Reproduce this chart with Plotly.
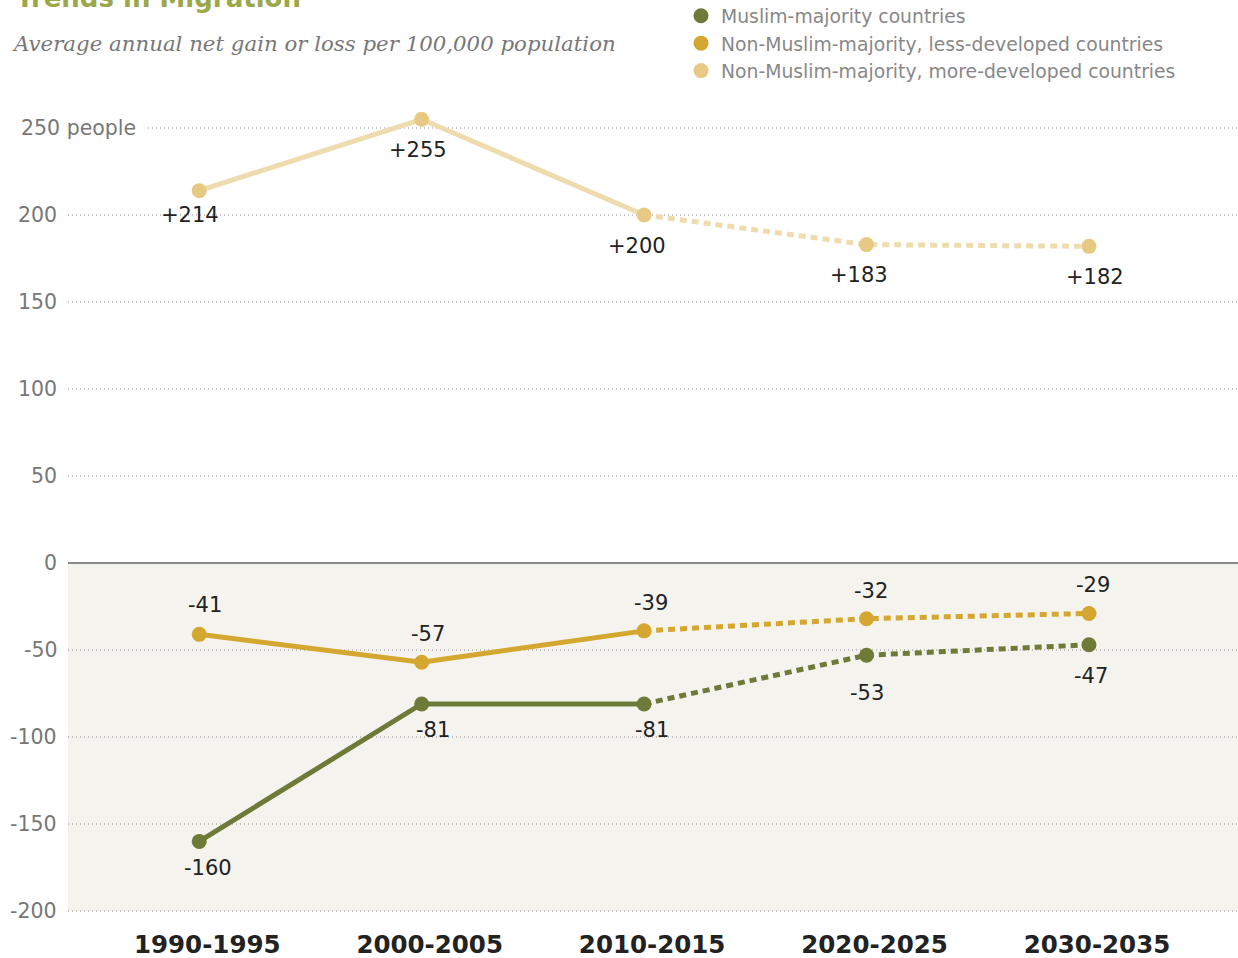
import plotly.graph_objects as go

periods = ["1990-1995", "2000-2005", "2010-2015", "2020-2025", "2030-2035"]
series_names = [
    "Muslim-majority countries",
    "Non-Muslim-majority, less-developed countries",
    "Non-Muslim-majority, more-developed countries",
]
muslim = [-160, -81, -81, -53, -47]
less_dev = [-41, -57, -39, -32, -29]
more_dev = [214, 255, 200, 183, 182]
y_ticks = [250, 200, 150, 100, 50, 0, -50, -100, -150, -200]
y_tick_text = ["250 people", "200", "150", "100", "50", "0", "-50", "-100", "-150", "-200"]
observed_count = 3  # first three periods observed, the rest projected

W, H = 1238, 958
ML, MR, MT, MB = 68, 0, 100, 45
PW = W - ML - MR
PH = H - MT - MB
Y_RANGE = [-201.15, 266.1]
X_RANGE = [-0.59, 4.67]


def px_to_paper_x(px):
    return (px - ML) / PW


def px_to_paper_y(py):
    return (H - MB - py) / PH


# label placement (style): per-point pixel offsets
styles = [
    dict(line="#6e7a38", marker="#6e7a38",
         yshift=[-27, -26, -26, -38, -31], xshift=[9, 11, 8, 0, 2]),
    dict(line="#d4a830", marker="#d4a830",
         yshift=[29, 28, 28, 28, 28], xshift=[6, 6, 7, 4, 4]),
    dict(line="#eedcae", marker="#e6ca84",
         yshift=[-24, -31, -31, -30, -31], xshift=[-9, -4, -7, -8, 6]),
]
data = [muslim, less_dev, more_dev]
xs = list(range(len(periods)))

fig = go.Figure()

for idx in [2, 1, 0]:
    vals = data[idx]
    st = styles[idx]
    k = observed_count
    fig.add_trace(go.Scatter(
        x=xs[:k], y=vals[:k], mode="lines", showlegend=False, hoverinfo="skip",
        line=dict(color=st["line"], width=5)))
    fig.add_trace(go.Scatter(
        x=xs[k - 1:], y=vals[k - 1:], mode="lines", showlegend=False, hoverinfo="skip",
        line=dict(color=st["line"], width=5, dash="7px,5px")))
    fig.add_trace(go.Scatter(
        x=xs, y=vals, mode="markers", showlegend=False,
        marker=dict(color=st["marker"], size=15),
        name=series_names[idx]))

for idx in range(3):
    fig.add_trace(go.Scatter(
        x=[None], y=[None], mode="markers", name=series_names[idx],
        marker=dict(color=styles[idx]["marker"], size=15)))

annotations = []
for idx in range(3):
    st = styles[idx]
    for i, (x, v) in enumerate(zip(xs, data[idx])):
        label = ("+%d" % v) if v > 0 else ("%d" % v)
        annotations.append(dict(
            x=x, y=v, xref="x", yref="y", text=label, showarrow=False,
            xshift=st["xshift"][i], yshift=st["yshift"][i],
            font=dict(family="DejaVu Sans", size=21, color="#222222")))

shapes = []
shapes.append(dict(type="rect", xref="paper", yref="y", x0=0, x1=1, y0=-200, y1=0,
                   fillcolor="#f4f3ee", line=dict(width=0), layer="below"))
for t, txt in zip(y_ticks, y_tick_text):
    if t == 0:
        shapes.append(dict(type="line", xref="paper", yref="y", x0=0, x1=1, y0=0, y1=0,
                           line=dict(color="#8a8a8a", width=2), layer="below"))
    else:
        x0 = px_to_paper_x(148) if txt.endswith("people") else 0
        shapes.append(dict(type="line", xref="paper", yref="y", x0=x0, x1=1, y0=t, y1=t,
                           line=dict(color="#8c8c8c", width=1.2, dash="1px,3px"), layer="below"))
    right_px = 138 if txt.endswith("people") else 59
    annotations.append(dict(
        x=px_to_paper_x(right_px), y=t, xref="paper", yref="y", text=txt,
        showarrow=False, xanchor="right", yanchor="middle",
        font=dict(family="DejaVu Sans", size=20.5, color="#777777")))

annotations.append(dict(
    x=px_to_paper_x(14), y=px_to_paper_y(-2), xref="paper", yref="paper",
    text="<b>Trends in Migration</b>", showarrow=False, xanchor="left", yanchor="middle",
    font=dict(family="DejaVu Sans", size=26, color="#9aa84a")))
annotations.append(dict(
    x=px_to_paper_x(10), y=px_to_paper_y(43), xref="paper", yref="paper",
    text="<i>Average annual net gain or loss per 100,000 population</i>", showarrow=False,
    xanchor="left", yanchor="middle",
    font=dict(family="DejaVu Serif", size=21.3, color="#777777")))

fig.update_layout(
    width=W, height=H,
    margin=dict(l=ML, r=MR, t=MT, b=MB, autoexpand=False),
    paper_bgcolor="white", plot_bgcolor="rgba(0,0,0,0)",
    showlegend=True,
    legend=dict(
        x=px_to_paper_x(681), y=px_to_paper_y(-3), xanchor="left", yanchor="top",
        font=dict(family="DejaVu Sans", size=18.8, color="#888888"),
        bgcolor="rgba(0,0,0,0)", itemwidth=30, tracegroupgap=0,
        traceorder="normal"),
    xaxis=dict(
        range=X_RANGE, tickmode="array", tickvals=xs, ticktext=periods,
        showgrid=False, zeroline=False, showline=False, ticks="",
        tickfont=dict(family="DejaVu Sans", size=24.5, color="#222222", weight="bold"),
        ticklabelstandoff=14, ticklabelshift=8, fixedrange=True),
    yaxis=dict(
        range=Y_RANGE, showgrid=False, zeroline=False, showline=False,
        showticklabels=False, ticks="", fixedrange=True),
    annotations=annotations,
    shapes=shapes,
)

fig.write_html("out.html", config={"displayModeBar": False},
               post_script="document.body.style.margin='0';")
